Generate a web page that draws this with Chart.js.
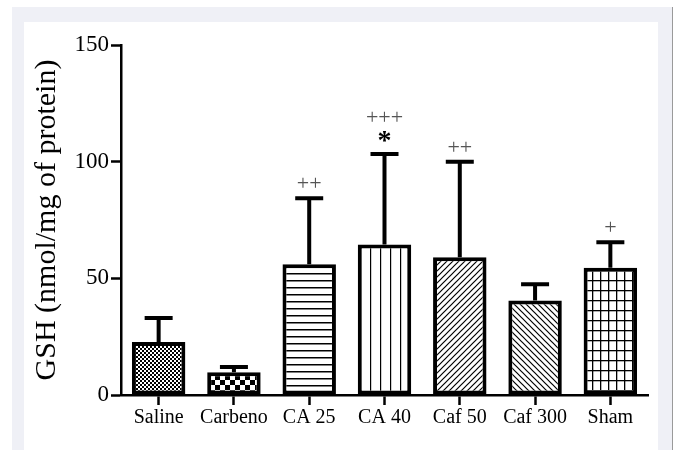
<!DOCTYPE html>
<html>
<head>
<meta charset="utf-8">
<script src="https://cdn.jsdelivr.net/npm/chart.js@4"></script>
<style>
  body { margin: 0; background: #fff; }
  .frame { position: absolute; left: 12px; top: 7px; width: 660px; height: 443px; background: #eff0f6; border-right: 1px solid #9a9a9a; }
  .panel { position: absolute; left: 24px; top: 22px; width: 634px; height: 428px; background: #fff; }
  #chart { position: absolute; left: 0; top: 0; }
</style>
</head>
<body>
<div class="frame"></div>
<div class="panel"></div>
<canvas id="chart" width="680" height="450"></canvas>
<script>
const grupos = ['Saline', 'Carbeno', 'CA 25', 'CA 40', 'Caf 50', 'Caf 300', 'Sham'];
const medias = [22.7, 9.8, 56, 64.5, 59, 40.5, 54.5];
const erros = [10.3, 2.2, 28.3, 38.8, 41, 7, 11];
const marcasMais = ['', '', '++', '+++', '++', '', '+'];
const marcasAst = ['', '', '', '*', '', '', ''];
const yTicks = [0, 50, 100, 150];

const fonte = "'Liberation Serif', 'Times New Roman', serif";
Chart.defaults.font.family = fonte;
Chart.defaults.color = '#000';

// padroes de preenchimento das barras
function padrao(w, h, desenha) {
  const c = document.createElement('canvas');
  c.width = w; c.height = h;
  const ctx = c.getContext('2d');
  ctx.fillStyle = '#fff';
  ctx.fillRect(0, 0, w, h);
  ctx.fillStyle = '#000';
  ctx.strokeStyle = '#000';
  desenha(ctx);
  return ctx.createPattern(c, 'repeat');
}

const preenchimentos = [
  padrao(4, 4, ctx => { ctx.fillRect(0, 0, 2, 2); ctx.fillRect(2, 2, 2, 2); }),
  padrao(10, 10, ctx => { ctx.fillRect(0, 0, 5, 5); ctx.fillRect(5, 5, 5, 5); }),
  padrao(1, 7, ctx => { ctx.fillRect(0, 0, 1, 1.5); }),
  padrao(10, 1, ctx => { ctx.fillRect(0, 0, 1.2, 1); }),
  padrao(6, 6, ctx => {
    ctx.lineWidth = 1.2;
    ctx.beginPath();
    ctx.moveTo(-1, 7); ctx.lineTo(7, -1);
    ctx.moveTo(-1, 1); ctx.lineTo(1, -1);
    ctx.moveTo(5, 7); ctx.lineTo(7, 5);
    ctx.stroke();
  }),
  padrao(6, 6, ctx => {
    ctx.lineWidth = 1.2;
    ctx.beginPath();
    ctx.moveTo(-1, -1); ctx.lineTo(7, 7);
    ctx.moveTo(5, -1); ctx.lineTo(7, 1);
    ctx.moveTo(-1, 5); ctx.lineTo(1, 7);
    ctx.stroke();
  }),
  padrao(8, 10, ctx => { ctx.fillRect(0, 0, 1.3, 10); ctx.fillRect(0, 0, 8, 1.3); })
];

const errorBars = {
  id: 'errorBars',
  afterDatasetsDraw(chart) {
    const ctx = chart.ctx;
    const y = chart.scales.y;
    const meta = chart.getDatasetMeta(0);
    ctx.save();
    meta.data.forEach((bar, i) => {
      const topo = y.getPixelForValue(medias[i] + erros[i]);
      ctx.strokeStyle = '#000';
      ctx.lineWidth = 4;
      ctx.beginPath();
      ctx.moveTo(bar.x, bar.y);
      ctx.lineTo(bar.x, topo);
      ctx.moveTo(bar.x - 14, topo);
      ctx.lineTo(bar.x + 14, topo);
      ctx.stroke();

      ctx.textAlign = 'center';
      ctx.textBaseline = 'alphabetic';
      let base = topo - 8;
      if (marcasAst[i]) {
        ctx.fillStyle = '#000';
        ctx.font = 'bold 28px ' + fonte;
        ctx.fillText(marcasAst[i], bar.x, topo - 5);
        base = topo - 30;
      }
      if (marcasMais[i]) {
        ctx.fillStyle = '#555';
        ctx.font = '22px ' + fonte;
        ctx.fillText(marcasMais[i], bar.x, base);
      }
    });
    ctx.restore();
  }
};

new Chart(document.getElementById('chart'), {
  type: 'bar',
  data: {
    labels: grupos,
    datasets: [{
      data: medias,
      backgroundColor: preenchimentos,
      borderColor: '#000',
      borderWidth: 4,
      borderSkipped: false,
      barPercentage: 0.71,
      categoryPercentage: 1
    }]
  },
  options: {
    responsive: false,
    animation: false,
    layout: { padding: { left: 25, right: 32, top: 45, bottom: 15 } },
    plugins: { legend: { display: false }, tooltip: { enabled: false } },
    scales: {
      x: {
        afterFit: s => { s.height = 40; },
        border: { display: true, color: '#000', width: 2.5 },
        grid: { offset: false, drawOnChartArea: false, drawTicks: true, tickLength: 10, tickWidth: 2.5, tickColor: '#000', color: '#000' },
        ticks: { font: { size: 20 }, padding: 1, color: '#000' }
      },
      y: {
        min: 0,
        max: 150,
        afterFit: s => { s.width = 96; },
        afterBuildTicks: s => { s.ticks = yTicks.map(v => ({ value: v })); },
        border: { display: true, color: '#000', width: 2.5 },
        grid: { drawOnChartArea: false, drawTicks: true, tickLength: 10, tickWidth: 2.5, tickColor: '#000', color: '#000' },
        ticks: { font: { size: 23 }, padding: 2, color: '#000' },
        title: { display: true, text: 'GSH (nmol/mg of protein)', font: { size: 30 }, color: '#000', padding: 4 }
      }
    }
  },
  plugins: [errorBars]
});
</script>
</body>
</html>
